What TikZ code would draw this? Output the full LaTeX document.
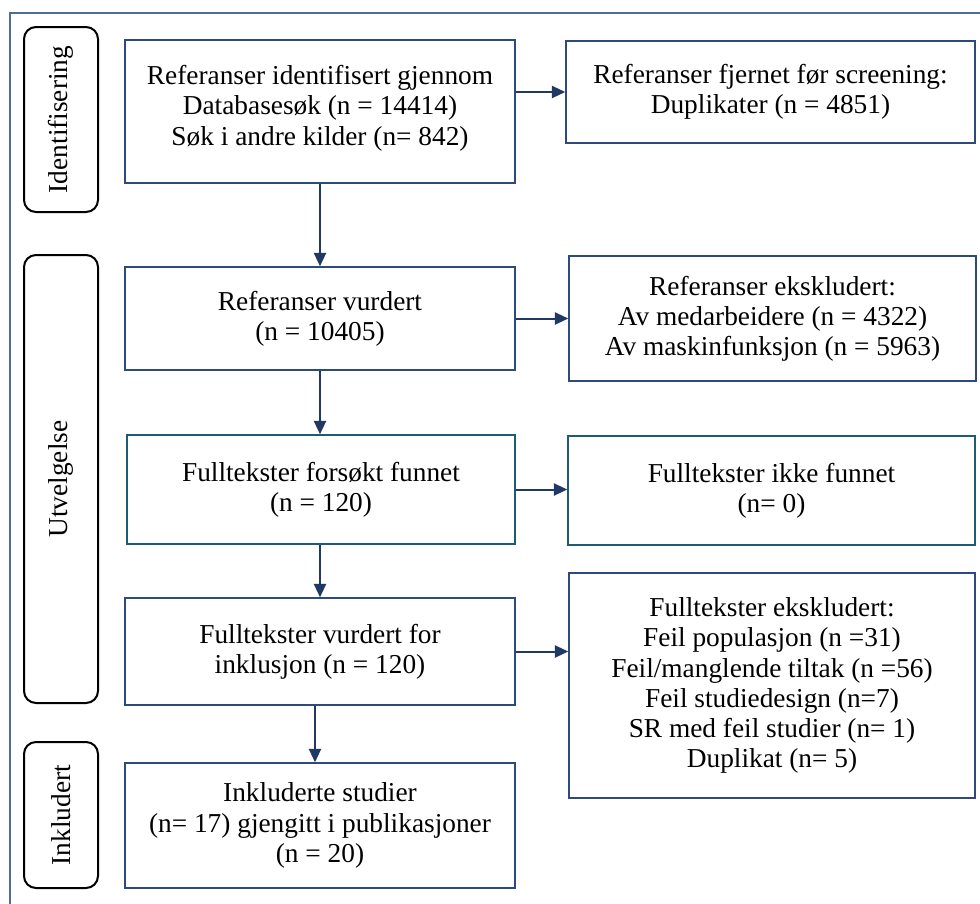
\documentclass[tikz,border=0pt]{standalone}
\usepackage{fontspec}
\setmainfont{Liberation Serif}
\usetikzlibrary{arrows.meta,positioning}
\newdimen\px \px=0.75pt
\definecolor{navy}{HTML}{1F3864}
\definecolor{boxline}{HTML}{2E4A7D}
\definecolor{tealline}{HTML}{1D5C73}
\definecolor{frameline}{HTML}{4F6B9A}
\tikzset{
  txt/.style={font=\fontsize{20.5}{22.6}\selectfont, align=center},
  box/.style={txt, draw=boxline, line width=1.1pt, inner sep=0pt, fill=white},
  tealbox/.style={box, draw=tealline},
  phase/.style={txt, draw=black, line width=1.5pt, rounded corners=9pt, rotate=90,
    inner sep=0pt, minimum height=74\px},
  arr/.style={draw=navy, line width=1.5pt, -{Triangle[length=10pt,width=9pt]}},
}
\begin{document}
\begin{tikzpicture}[x=0.75pt,y=-0.75pt]
\useasboundingbox (0,0) rectangle (980,903);
\fill[white] (0,0) rectangle (980,903);
\draw[frameline, line width=0.8pt] (10,13) rectangle (995,920);

% phase labels
\node[phase, minimum width=185\px] (id) at (61,119.5) {Identifisering};
\node[phase, minimum width=448\px] (utv) at (61,479) {Utvelgelse};
\node[phase, minimum width=146\px] (ink) at (61,815) {Inkludert};

% left column
\node[box, minimum width=390\px, minimum height=143\px,
  label={[txt, yshift=2.5pt]center:{Referanser identifisert gjennom\\Databasesøk (n = 14414)\\Søk i andre kilder (n= 842)}}]
  (b1) at (320,111.5) {};
\node[box, minimum width=390\px, minimum height=103\px] (b2) at (320,318.5)
  {Referanser vurdert\\(n = 10405)};
\node[tealbox, minimum width=388\px, minimum height=109\px] (b3) at (321,489.5)
  {Fulltekster forsøkt funnet\\(n = 120)};
\node[box, minimum width=390\px, minimum height=107\px] (b4) at (320,651.5)
  {Fulltekster vurdert for\\inklusjon (n = 120)};
\node[box, minimum width=390\px, minimum height=125\px] (b5) at (320,825.5)
  {Inkluderte studier\\(n= 17) gjengitt i publikasjoner\\(n = 20)};

% right column
\node[box, minimum width=409\px, minimum height=102\px] (r1) at (770.5,92)
  {Referanser fjernet før screening:\\Duplikater (n = 4851)};
\node[box, minimum width=407\px, minimum height=125\px] (r2) at (772.5,318.5)
  {Referanser ekskludert:\\Av medarbeidere (n = 4322)\\Av maskinfunksjon (n = 5963)};
\node[tealbox, minimum width=407\px, minimum height=109\px] (r3) at (771.5,490.5)
  {Fulltekster ikke funnet\\(n= 0)};
\node[box, minimum width=406\px, minimum height=225\px] (r4) at (772,685.5)
  {Fulltekster ekskludert:\\Feil populasjon (n =31)\\Feil/manglende tiltak (n =56)\\Feil studiedesign (n=7)\\SR med feil studier (n= 1)\\Duplikat (n= 5)};

% vertical arrows
\draw[arr] (b1.south) -- (b2.north);
\draw[arr] (b2.south) -- (b2.south |- b3.north);
\draw[arr] (b3.south -| b2.south) -- (b4.north);
\draw[arr] ([xshift=-3.75pt]b4.south) -- ([xshift=-3.75pt]b5.north);

% horizontal arrows
\draw[arr] (b1.east |- r1.west) -- (r1.west);
\draw[arr] (b2.east) -- (r2.west);
\draw[arr] (b3.east) -- (b3.east -| r3.west);
\draw[arr] (b4.east) -- (b4.east -| r4.west);
\end{tikzpicture}
\end{document}
